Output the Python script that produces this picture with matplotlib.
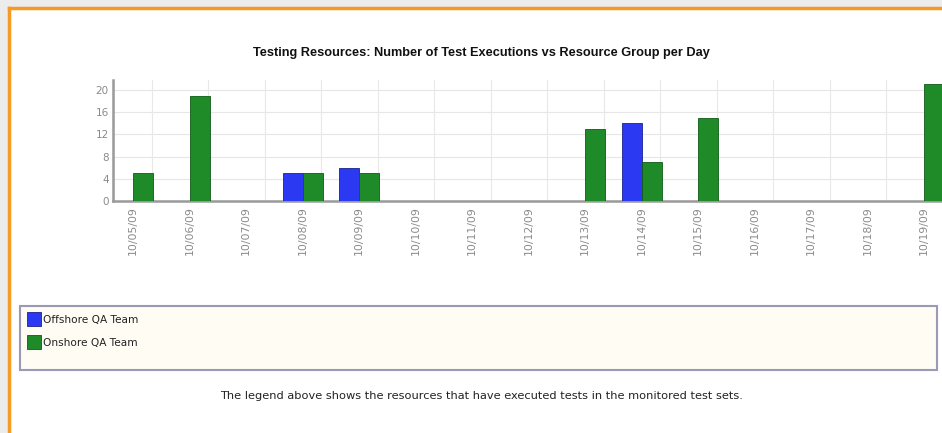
import matplotlib
matplotlib.use("Agg")
import matplotlib.pyplot as plt
from matplotlib.patches import Rectangle
import numpy as np

dates = ["10/05/09", "10/06/09", "10/07/09", "10/08/09", "10/09/09", "10/10/09",
         "10/11/09", "10/12/09", "10/13/09", "10/14/09", "10/15/09", "10/16/09",
         "10/17/09", "10/18/09", "10/19/09"]
offshore = [0, 0, 0, 5, 6, 0, 0, 0, 0, 14, 0, 0, 0, 0, 0]
onshore = [5, 19, 0, 5, 5, 0, 0, 0, 13, 7, 15, 0, 0, 0, 21]
yticks = [0, 4, 8, 12, 16, 20]
series_names = ["Offshore QA Team", "Onshore QA Team"]

plt.rcParams['font.family'] = ['DejaVu Sans']

W, H = 942, 433
fig = plt.figure(figsize=(W / 100, H / 100), dpi=100)
fig.patch.set_facecolor('white')

def fx(px):
    return px / W

def fy(py):
    return 1 - py / H

# outer grey background and orange frame
fig.patches.append(Rectangle((0, 0), 1, 1, transform=fig.transFigure,
                             facecolor='#ececec', edgecolor='none', zorder=-3))
fig.patches.append(Rectangle((fx(9), 0), 1, fy(8), transform=fig.transFigure,
                             facecolor='white', edgecolor='none', zorder=-2))
fig.add_artist(plt.Line2D([fx(9), fx(9)], [0, fy(8)], transform=fig.transFigure,
                          color='#f59b25', lw=2.5, zorder=5))
fig.add_artist(plt.Line2D([fx(9), 1], [fy(8), fy(8)], transform=fig.transFigure,
                          color='#f59b25', lw=2.5, zorder=5))

# axes
ax_l, ax_r, ax_t, ax_b = 113, 942, 80, 201
ax = fig.add_axes([fx(ax_l), fy(ax_b), fx(ax_r - ax_l), (ax_b - ax_t) / H])
ax.set_facecolor('none')

unit = 56.5
x = np.arange(len(dates))
bw = 20 / unit
ax.bar(x - bw / 2, offshore, width=bw, color='#2b3af2', edgecolor='#1a2290',
       linewidth=0.6, zorder=3, label=series_names[0])
ax.bar(x + bw / 2, onshore, width=bw, color='#1f8a28', edgecolor='#0f5a15',
       linewidth=0.6, zorder=3, label=series_names[1])

ax.set_xlim(-20 / unit, (942 - 133) / unit)
ax.set_ylim(0, 21.8)
ax.set_yticks(yticks)
ax.set_yticklabels([str(v) for v in yticks], fontsize=7.5, color='#8a8a8a')
ax.set_xticks(x)
ax.set_xticklabels(dates, rotation=90, fontsize=7.8, color='#8a8a8a')
ax.tick_params(axis='both', length=0, pad=3)
ax.tick_params(axis='x', pad=4)

for v in yticks[1:]:
    ax.axhline(v, color='#e6e6e6', lw=0.8, zorder=1)
for xi in x:
    ax.axvline(xi + 0.33, color='#e8e8e8', lw=0.8, zorder=1)

for s in ['top', 'right']:
    ax.spines[s].set_visible(False)
ax.spines['left'].set_color('#999999')
ax.spines['left'].set_linewidth(1.8)
ax.spines['bottom'].set_color('#999999')
ax.spines['bottom'].set_linewidth(1.8)

# title
fig.text(fx(481), fy(53), "Testing Resources: Number of Test Executions vs Resource Group per Day",
         ha='center', va='center', fontsize=9.2, fontweight='bold', color='#111111',
         family=['Liberation Sans', 'DejaVu Sans'])

# legend box
lg_l, lg_t, lg_r, lg_b = 20, 306, 937, 370
fig.patches.append(Rectangle((fx(lg_l), fy(lg_b)), fx(lg_r - lg_l), (lg_b - lg_t) / H,
                             transform=fig.transFigure, facecolor='#fffcf3',
                             edgecolor='#9a9ab4', lw=1.5, zorder=1))
colors = ['#2b3af2', '#1f8a28']
edges = ['#1a2290', '#0f5a15']
for i, (name, c, e) in enumerate(zip(series_names, colors, edges)):
    top = 312 + i * 23
    fig.patches.append(Rectangle((fx(27), fy(top + 14)), fx(14), 14 / H,
                                 transform=fig.transFigure, facecolor=c,
                                 edgecolor=e, lw=0.6, zorder=2))
    fig.text(fx(43), fy(top + 8), name, ha='left', va='center', fontsize=7.6,
             color='#222222', zorder=3)

fig.text(fx(481), fy(396),
         "The legend above shows the resources that have executed tests in the monitored test sets.",
         ha='center', va='center', fontsize=8.2, color='#222222')

fig.savefig('out.png', dpi=100)
